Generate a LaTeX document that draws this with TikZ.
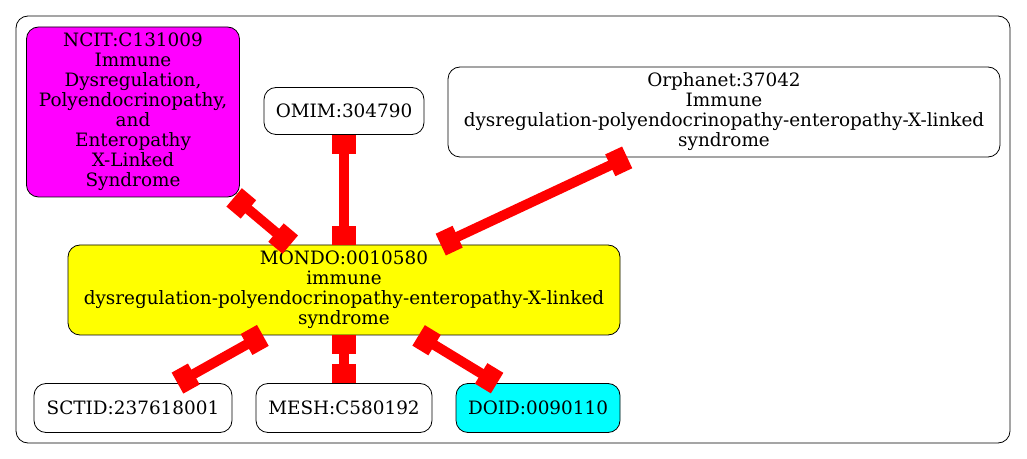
\documentclass[tikz,border=0pt]{standalone}
\usepackage{fontspec}
\setmainfont{DejaVu Serif}
\usetikzlibrary{arrows.meta}
\definecolor{ink}{HTML}{000000}
\definecolor{linkC}{HTML}{FF0000}
\definecolor{ncitC}{HTML}{FF00FF}
\definecolor{mondoC}{HTML}{FFFF00}
\definecolor{doidC}{HTML}{00FFFF}
\tikzset{
  term/.style={draw=ink,line width=0.6pt,rounded corners=9pt,align=center,
    font=\fontsize{13.8}{15}\selectfont,text=ink,inner sep=2pt,fill=white},
  xref/.style={draw=linkC,line width=7.5pt,
    {Square[length=14pt,width=18pt]}-{Square[length=14pt,width=18pt]}},
  cluster/.style={draw=ink,line width=0.6pt,rounded corners=9pt},
}

\begin{document}
\begin{tikzpicture}[x=0.75pt,y=-0.75pt]
\useasboundingbox (0,0) rectangle (1027,459);

% ================= CLUSTER =================
\draw[cluster] (16,16) rectangle (1010,443);

% ================= TERMS =================
\node[term,fill=ncitC,minimum width=213*0.75pt,minimum height=170*0.75pt] (ncit) at (133,112)
  {NCIT:C131009\\Immune\\Dysregulation,\\Polyendocrinopathy,\\and\\Enteropathy\\X-Linked\\Syndrome};
\node[term,minimum width=160*0.75pt,minimum height=47*0.75pt] (omim) at (344,111) {OMIM:304790};
\node[term,minimum width=552*0.75pt,minimum height=90*0.75pt] (orpha) at (724,112)
  {Orphanet:37042\\Immune\\dysregulation-polyendocrinopathy-enteropathy-X-linked\\syndrome};
\node[term,fill=mondoC,minimum width=552*0.75pt,minimum height=90*0.75pt] (mondo) at (344,290)
  {MONDO:0010580\\immune\\dysregulation-polyendocrinopathy-enteropathy-X-linked\\syndrome};
\node[term,minimum width=198*0.75pt,minimum height=49*0.75pt] (sctid) at (133,408) {SCTID:237618001};
\node[term,minimum width=176*0.75pt,minimum height=49*0.75pt] (mesh) at (344,408) {MESH:C580192};
\node[term,fill=doidC,minimum width=164*0.75pt,minimum height=49*0.75pt] (doid) at (538,408) {DOID:0090110};

% ================= LINKS =================
\draw[xref] (ncit) -- (mondo);
\draw[xref] (omim) -- (mondo);
\draw[xref] (orpha) -- (mondo);
\draw[xref] (mondo) -- (sctid);
\draw[xref] (mondo) -- (mesh);
\draw[xref] (mondo) -- (doid);

\end{tikzpicture}
\end{document}
